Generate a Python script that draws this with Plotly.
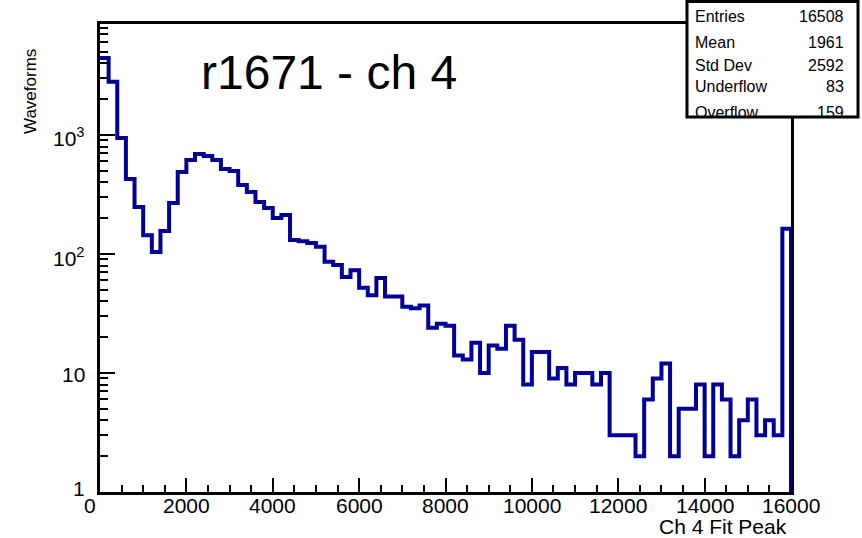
import plotly.graph_objects as go

# ---------------- data ----------------
bin_width = 200
n_bins = 80
counts = [4440, 2800, 944, 427, 248, 144, 104, 156, 268, 489,
          617, 693, 666, 617, 518, 498, 380, 332, 273, 244,
          201, 213, 131, 128, 124, 115, 86, 81, 64, 73,
          52, 45, 63, 44, 44, 36, 35, 37, 24, 26,
          25, 14, 13, 18, 10, 17, 16, 25, 19, 8,
          15, 15, 9, 11, 8, 10, 10, 8, 10, 3,
          3, 3, 2, 6, 9, 12, 2, 5, 5, 8,
          2, 8, 6, 2, 4, 6, 3, 4, 3, 163]
x_tick_vals = [0, 2000, 4000, 6000, 8000, 10000, 12000, 14000, 16000]
x_tick_text = ["0", "2000", "4000", "6000", "8000", "10000", "12000", "14000", "16000"]
y_tick_vals = [1, 10, 100, 1000]
y_tick_text = ["1", "10", "10<sup>2</sup>", "10<sup>3</sup>"]
stat_labels = ["Entries", "Mean", "Std Dev", "Underflow", "Overflow"]
stat_values = ["16508", "1961", "2592", "83", "159"]
title_text = "r1671 - ch 4"
x_title = "Ch 4 Fit Peak"
y_title = "Waveforms"

# ---------------- geometry ----------------
W, H = 862, 538
L, R, T, B = 100, 791, 24, 492
FONT = "Liberation Sans, Arial, Helvetica, sans-serif"


def px(xp):
    return (xp - L) / (R - L)


def py(yp):
    return (B - yp) / (B - T)


edges = [i * bin_width for i in range(n_bins + 1)]
xs = edges[:n_bins] + [edges[n_bins], edges[n_bins]]
ys = counts + [counts[-1], 1]

fig = go.Figure()
fig.add_trace(go.Scatter(x=xs, y=ys, mode="lines", line=dict(shape="hv", color="#000099", width=4),
                         hoverinfo="skip", showlegend=False))

minor_y = [m * d for d in [1, 10, 100, 1000] for m in range(2, 10) if m * d < 8500]

fig.update_layout(
    width=W, height=H,
    margin=dict(l=L, r=W - R, t=T, b=H - B, pad=0, autoexpand=False),
    paper_bgcolor="white", plot_bgcolor="white",
    font=dict(family=FONT, color="black", size=21),
    showlegend=False,
)
fig.update_xaxes(
    range=[0, 16000], showgrid=False, zeroline=False, automargin=False,
    showline=True, linecolor="black", linewidth=3, mirror=True,
    ticks="inside", ticklen=14, tickwidth=2, tickcolor="black",
    tickvals=x_tick_vals[1:], showticklabels=False,
    minor=dict(dtick=500, tick0=0, ticks="inside", ticklen=7, tickwidth=2, tickcolor="black"),
)
fig.update_yaxes(
    type="log", range=[0, 3.933], showgrid=False, zeroline=False, automargin=False,
    showline=True, linecolor="black", linewidth=3, mirror=True,
    ticks="inside", ticklen=15, tickwidth=2, tickcolor="black",
    tickvals=y_tick_vals, showticklabels=False,
    minor=dict(tickvals=minor_y, ticks="inside", ticklen=8, tickwidth=2, tickcolor="black"),
)

ann = []
# y tick labels (ROOT style, right aligned next to the axis)
y_label_px = [488, 374, 257, 137]
for v, t, ypx in zip(y_tick_vals, y_tick_text, y_label_px):
    ann.append(dict(x=px(87), y=py(ypx), xref="paper", yref="paper", text=t, showarrow=False,
                    xanchor="right", yanchor="middle", font=dict(size=21, family=FONT)))
# x tick labels, placed on the data axis
for v, t in zip(x_tick_vals, x_tick_text):
    ann.append(dict(x=v, xref="x", y=py(506), yref="paper", text=t, showarrow=False,
                    xshift=(-10 if v == 0 else 0),
                    xanchor="center", yanchor="middle", font=dict(size=21, family=FONT)))
# title inside plot
ann.append(dict(x=px(199), y=py(73), xref="paper", yref="paper", text=title_text, showarrow=False,
                xanchor="left", yanchor="middle", font=dict(size=48, family=FONT)))
# axis titles
ann.append(dict(x=px(789), y=py(526), xref="paper", yref="paper", text=x_title, showarrow=False,
                xanchor="right", yanchor="middle", font=dict(size=21, family=FONT)))
ann.append(dict(x=px(30), y=py(92), xref="paper", yref="paper", text=y_title, showarrow=False,
                textangle=-90, xanchor="center", yanchor="middle", font=dict(size=17, family=FONT)))

# stats box
row_y = [16, 43, 65, 87, 112]
for lab, val, yy in zip(stat_labels, stat_values, row_y):
    ann.append(dict(x=px(693), y=py(yy), xref="paper", yref="paper", text=lab, showarrow=False,
                    xanchor="left", yanchor="middle", font=dict(size=16, family=FONT)))
    ann.append(dict(x=px(846), y=py(yy), xref="paper", yref="paper", text=val, showarrow=False,
                    xanchor="right", yanchor="middle", font=dict(size=16, family=FONT)))

fig.update_layout(annotations=ann)
fig.add_shape(type="rect", xref="paper", yref="paper",
              x0=px(687), x1=px(858), y0=py(117), y1=py(1.5),
              line=dict(color="black", width=3), fillcolor="white", layer="above")

fig.write_html("out.html", config={"displayModeBar": False},
               post_script="document.body.style.margin='0';")
